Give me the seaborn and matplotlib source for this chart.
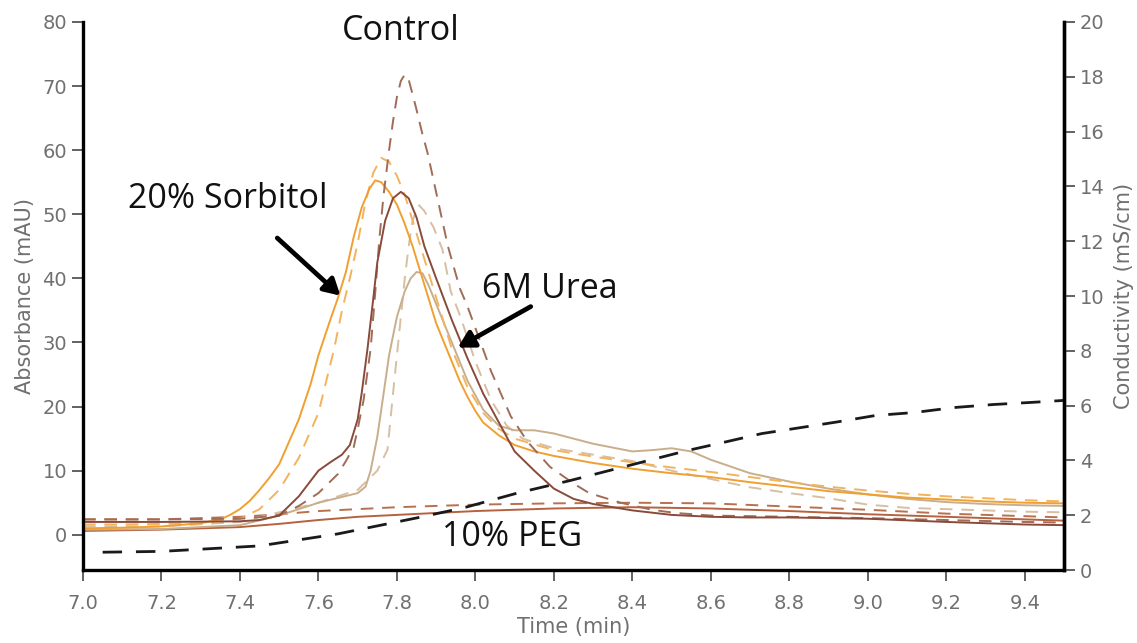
import matplotlib
matplotlib.use("Agg")
import matplotlib.pyplot as plt
import seaborn as sns
import pandas as pd

# ---------------- data ----------------
# Orange solid
t_orange = [7.00, 7.10, 7.20, 7.30, 7.35, 7.375, 7.40, 7.425, 7.45, 7.475, 7.50, 7.55, 7.58, 7.60,
            7.63, 7.65, 7.67, 7.69, 7.71, 7.73, 7.745, 7.76, 7.78, 7.80, 7.82, 7.84, 7.86, 7.88,
            7.90, 7.92, 7.94, 7.96, 7.98, 8.00, 8.02, 8.06, 8.10, 8.15, 8.20, 8.30, 8.40, 8.50,
            8.60, 8.70, 8.80, 8.90, 9.00, 9.10, 9.20, 9.30, 9.40, 9.50]
a_orange = [1.0, 1.1, 1.3, 1.8, 2.4, 3.1, 4.0, 5.3, 7.0, 8.9, 11.0, 18.0, 23.5, 28.0,
            33.5, 37.0, 41.0, 46.5, 51.0, 54.0, 55.3, 55.0, 53.5, 51.5, 48.5, 45.0, 41.0, 37.0,
            33.0, 30.0, 27.0, 24.0, 21.5, 19.3, 17.5, 15.5, 14.0, 13.0, 12.3, 11.2, 10.3, 9.6,
            9.0, 8.2, 7.5, 6.8, 6.3, 5.8, 5.5, 5.2, 5.0, 4.9]

# Orange dashed
t_orange_d = [7.00, 7.10, 7.20, 7.30, 7.40, 7.45, 7.50, 7.55, 7.60, 7.62, 7.64, 7.66, 7.68, 7.70,
              7.72, 7.74, 7.76, 7.78, 7.80, 7.82, 7.84, 7.86, 7.88, 7.90, 7.92, 7.94, 7.96, 7.98,
              8.02, 8.06, 8.10, 8.20, 8.30, 8.40, 8.50, 8.60, 8.70, 8.80, 8.90, 9.00, 9.10,
              9.20, 9.30, 9.40, 9.50]
a_orange_d = [1.6, 1.6, 1.7, 1.8, 2.5, 4.0, 7.0, 12.0, 19.0, 24.0, 29.0, 35.0, 40.0, 45.5,
              52.0, 56.5, 58.8, 58.2, 56.0, 53.0, 49.0, 45.0, 41.0, 37.0, 33.0, 29.0, 26.0, 23.0,
              19.0, 16.5, 15.0, 13.2, 12.2, 11.3, 10.5, 9.8, 9.0, 8.2, 7.5, 6.9, 6.4,
              6.0, 5.7, 5.4, 5.2]

# Dark brown solid
t_brown = [7.00, 7.20, 7.40, 7.45, 7.50, 7.55, 7.60, 7.63, 7.66, 7.68, 7.70, 7.71, 7.725, 7.74,
           7.75, 7.77, 7.79, 7.81, 7.83, 7.85, 7.87, 7.90, 7.94, 7.98, 8.02, 8.06, 8.10, 8.15,
           8.20, 8.25, 8.30, 8.40, 8.50, 8.60, 8.70, 8.80, 9.00, 9.20, 9.40, 9.50]
a_brown = [2.0, 2.0, 2.1, 2.3, 3.0, 6.0, 10.0, 11.3, 12.5, 14.0, 18.0, 22.0, 29.0, 37.0,
           42.5, 49.0, 52.5, 53.5, 52.5, 49.5, 45.0, 40.0, 33.5, 27.5, 22.0, 17.5, 13.0, 10.0,
           7.2, 5.6, 4.8, 3.8, 3.1, 2.8, 2.7, 2.7, 2.5, 2.0, 1.6, 1.5]

# Brown dashed (tallest peak)
t_brown_d = [7.00, 7.20, 7.40, 7.50, 7.55, 7.60, 7.65, 7.67, 7.69, 7.70, 7.715, 7.733, 7.745,
             7.755, 7.766, 7.78, 7.79, 7.80, 7.81, 7.82, 7.83, 7.848, 7.865, 7.878, 7.904, 7.93,
             7.96, 7.98, 8.04, 8.09, 8.133, 8.19, 8.25, 8.29, 8.37, 8.45, 8.51, 8.60, 8.80,
             9.00, 9.20, 9.40, 9.50]
a_brown_d = [2.4, 2.4, 2.5, 3.0, 4.5, 6.5, 9.5, 11.5, 13.7, 16.5, 21.0, 29.0, 38.0,
             46.0, 53.0, 60.0, 64.5, 68.3, 70.8, 71.8, 71.0, 66.8, 62.5, 59.6, 52.3, 45.0,
             38.5, 35.6, 25.5, 18.5, 14.5, 10.6, 8.0, 6.5, 5.0, 3.9, 3.4, 3.0, 2.8,
             2.6, 2.3, 2.0, 1.9]

# Tan solid
t_tan = [7.00, 7.20, 7.40, 7.50, 7.60, 7.70, 7.72, 7.733, 7.75, 7.766, 7.78, 7.80, 7.82, 7.835,
         7.85, 7.865, 7.88, 7.90, 7.94, 7.98, 8.02, 8.06, 8.10, 8.15, 8.20, 8.30, 8.40, 8.45,
         8.50, 8.55, 8.60, 8.70, 8.80, 8.90, 9.00, 9.10, 9.20, 9.30, 9.40, 9.50]
a_tan = [0.8, 0.9, 1.5, 3.0, 5.0, 6.5, 7.5, 10.0, 15.3, 22.0, 28.0, 34.0, 38.0, 40.0,
         41.0, 40.8, 39.0, 36.0, 30.0, 24.0, 19.5, 17.0, 16.3, 16.3, 15.8, 14.2, 13.0, 13.2,
         13.5, 13.0, 11.7, 9.6, 8.3, 7.2, 6.3, 5.6, 5.1, 4.8, 4.6, 4.5]

# Tan dashed
t_tan_d = [7.00, 7.20, 7.40, 7.50, 7.60, 7.70, 7.75, 7.776, 7.79, 7.80, 7.81, 7.82, 7.83, 7.84,
           7.855, 7.87, 7.893, 7.916, 7.937, 7.962, 8.00, 8.04, 8.08, 8.12, 8.20, 8.30, 8.40,
           8.50, 8.60, 8.70, 8.80, 8.90, 9.00, 9.10, 9.20, 9.30, 9.40, 9.50]
a_tan_d = [1.3, 1.3, 2.0, 3.5, 5.0, 7.0, 10.0, 13.3, 22.0, 28.0, 34.0, 40.0, 45.0, 49.0,
           51.5, 50.5, 48.0, 44.5, 38.0, 34.0, 27.0, 21.0, 17.0, 15.0, 13.5, 12.5, 11.5,
           10.0, 8.7, 7.4, 6.5, 5.7, 4.7, 4.2, 4.0, 3.8, 3.6, 3.5]

# 10% PEG solid
t_peg = [7.00, 7.20, 7.40, 7.50, 7.60, 7.70, 7.80, 7.90, 8.00, 8.20, 8.40, 8.60, 8.80, 9.00,
         9.20, 9.40, 9.50]
a_peg = [0.6, 0.8, 1.2, 1.7, 2.3, 2.8, 3.1, 3.4, 3.7, 4.1, 4.3, 4.1, 3.7, 3.2, 2.8, 2.4, 2.2]

# 10% PEG dashed
t_peg_d = [7.00, 7.20, 7.40, 7.50, 7.60, 7.70, 7.80, 7.90, 8.00, 8.20, 8.40, 8.60, 8.80, 9.00,
           9.20, 9.40, 9.50]
a_peg_d = [2.4, 2.4, 2.8, 3.2, 3.7, 4.0, 4.3, 4.5, 4.7, 4.9, 5.0, 4.9, 4.4, 3.9, 3.3, 2.9, 2.7]

# Conductivity (right axis)
t_cond = [7.05, 7.20, 7.45, 7.65, 7.85, 7.97, 8.11, 8.24, 8.36, 8.54, 8.63, 8.73, 8.83, 8.92,
          9.02, 9.12, 9.22, 9.32, 9.42, 9.50]
cond = [0.65, 0.68, 0.88, 1.32, 1.90, 2.27, 2.82, 3.26, 3.70, 4.36, 4.65, 4.98, 5.20, 5.40,
        5.64, 5.75, 5.93, 6.04, 6.12, 6.19]

x_ticks = [7.0, 7.2, 7.4, 7.6, 7.8, 8.0, 8.2, 8.4, 8.6, 8.8, 9.0, 9.2, 9.4]
y_ticks = [0, 10, 20, 30, 40, 50, 60, 70, 80]
y2_ticks = [0, 2, 4, 6, 8, 10, 12, 14, 16, 18, 20]

# ---------------- plot ----------------
sns.set_theme(style="white")
plt.rcParams["font.family"] = ["DejaVu Sans"]

fig = plt.figure(figsize=(11.37, 6.43), dpi=100)
ax = fig.add_axes([0.073, 0.1135, 0.9358 - 0.073, 0.9658 - 0.1135])

series = [
    (t_peg, a_peg, "#B5623F", "-"),
    (t_peg_d, a_peg_d, "#B8704E", "--"),
    (t_tan_d, a_tan_d, "#D6BFA3", "--"),
    (t_tan, a_tan, "#C9AE8C", "-"),
    (t_orange_d, a_orange_d, "#F3B35C", "--"),
    (t_orange, a_orange, "#F0A030", "-"),
    (t_brown_d, a_brown_d, "#A06C57", "--"),
    (t_brown, a_brown, "#8A4A3A", "-"),
]
for t, a, c, ls in series:
    df = pd.DataFrame({"t": t, "a": a})
    sns.lineplot(data=df, x="t", y="a", ax=ax, color=c, linewidth=1.4)
    ln = ax.lines[-1]
    ln.set_solid_joinstyle("round")
    if ls == "--":
        ln.set_dashes((6.5, 4.5))

label_color = "#707070"
ax.set_xlim(7.0, 9.5)
ax.set_ylim(-5.5, 80)
ax.set_xticks(x_ticks)
ax.set_xticklabels([f"{v:.1f}" for v in x_ticks])
ax.set_yticks(y_ticks)
ax.set_xlabel("Time (min)", fontsize=15, color=label_color, labelpad=3)
ax.set_ylabel("Absorbance (mAU)", fontsize=15, color=label_color, labelpad=5)
ax.tick_params(axis="x", which="major", labelsize=14, labelcolor=label_color,
               color="#555555", length=8, width=1.3, direction="out", bottom=True, pad=9)
ax.tick_params(axis="y", which="major", labelsize=14, labelcolor=label_color,
               color="#555555", length=8, width=1.3, direction="out", left=True)

for side in ["left", "bottom", "right"]:
    ax.spines[side].set_linewidth(2.4)
    ax.spines[side].set_color("black")
ax.spines["top"].set_visible(False)

ax2 = ax.twinx()
dfc = pd.DataFrame({"t": t_cond, "c": cond})
sns.lineplot(data=dfc, x="t", y="c", ax=ax2, color="#1a1a1a", linewidth=2.0)
ax2.lines[-1].set_dashes((7, 5))
ax2.set_ylim(0, 20)
ax2.set_yticks(y2_ticks)
ax2.set_ylabel("Conductivity (mS/cm)", fontsize=15, color=label_color, labelpad=7)
ax2.set_xlabel("")
ax2.tick_params(axis="y", labelsize=14, labelcolor=label_color, color="#555555",
                length=8, width=1.3, direction="out", right=True)
for side in ["left", "bottom", "top"]:
    ax2.spines[side].set_visible(False)
ax2.spines["right"].set_linewidth(2.4)
ax2.spines["right"].set_color("black")
ax2.set_xlim(7.0, 9.5)

# annotations
txt_kw = dict(fontsize=24.5, color="#111111", ha="center", va="center", family="Open Sans")
ax.text(7.809, 78.6, "Control", **txt_kw)
ax.text(7.37, 52.4, "20% Sorbitol", **txt_kw)
ax.text(8.19, 38.3, "6M Urea", **txt_kw)
ax.text(8.093, -0.4, "10% PEG", **txt_kw)
arrow_kw = dict(arrowstyle="-|>,head_length=0.8,head_width=0.45", color="black", lw=3.4,
                shrinkA=0, shrinkB=0)
ax.annotate("", xy=(7.656, 37.3), xytext=(7.495, 46.3), arrowprops=arrow_kw)
ax.annotate("", xy=(7.955, 29.2), xytext=(8.141, 35.6), arrowprops=arrow_kw)

fig.savefig("out.png", dpi=100)
